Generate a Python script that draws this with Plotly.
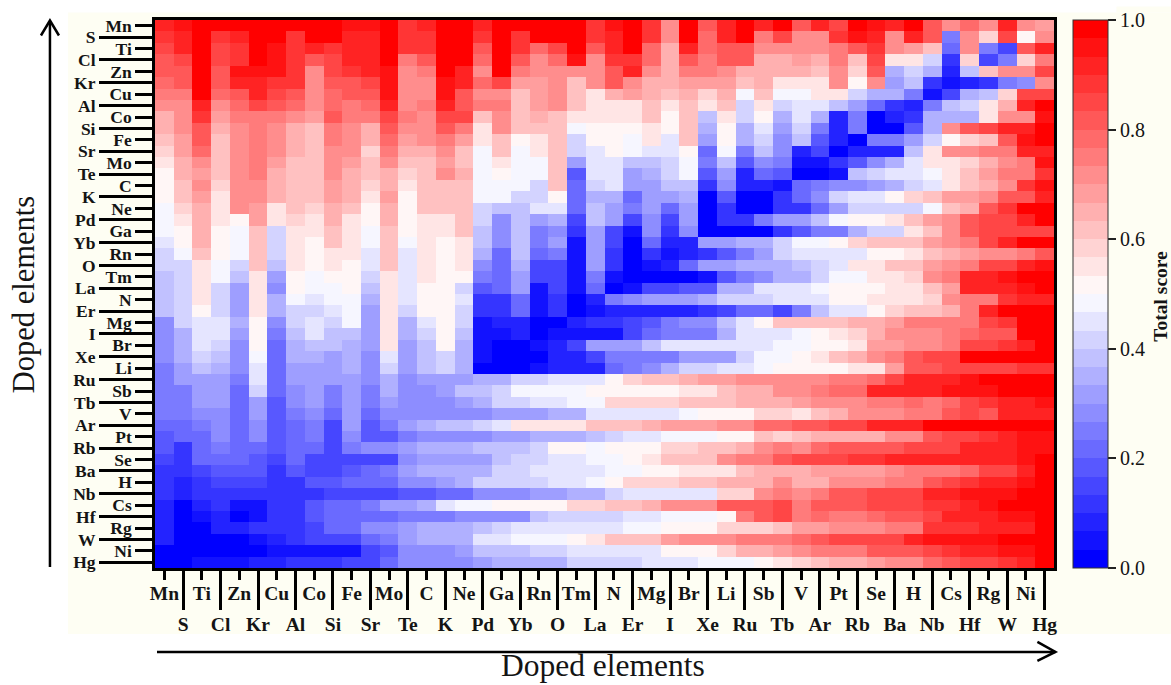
import plotly.graph_objects as go

elements = ["Mn","S","Ti","Cl","Zn","Kr","Cu","Al","Co","Si","Fe","Sr","Mo","Te","C","K","Ne","Pd","Ga","Yb","Rn","O","Tm","La","N","Er","Mg","I","Br","Xe","Li","Ru","Sb","Tb","V","Ar","Pt","Rb","Se","Ba","H","Nb","Cs","Hf","Rg","W","Ni","Hg"]

# total score x 100, one row per doped element, top row first
score_pct = [
[90,95,100,100,100,100,100,100,100,100,95,95,100,87,90,100,100,92,100,100,100,100,100,87,95,100,88,72,97,82,92,97,90,97,80,92,85,100,95,92,100,80,70,78,72,90,72,68],
[88,92,100,88,93,100,100,88,100,97,93,93,100,87,87,100,97,88,100,87,97,97,100,87,92,97,87,72,97,78,90,97,75,85,72,72,88,95,90,70,92,80,25,70,58,85,52,72],
[85,90,100,85,88,100,95,88,90,88,92,93,100,87,87,100,97,80,100,87,78,85,100,82,92,97,78,64,92,78,82,82,72,72,72,72,75,80,88,72,68,60,20,70,25,15,82,90],
[82,85,97,85,88,97,95,87,82,85,90,90,100,75,80,97,97,78,97,80,72,77,95,72,87,87,78,64,80,76,80,80,65,65,68,66,75,60,85,55,55,40,10,58,15,25,58,75],
[80,82,97,82,95,95,95,88,72,85,88,90,95,72,75,97,93,72,97,74,72,72,72,72,82,92,72,64,75,75,72,64,64,65,65,60,72,58,80,36,42,36,7,38,60,70,72,85],
[78,80,97,82,92,92,88,88,72,82,83,85,95,72,72,95,90,77,85,68,69,72,62,70,82,72,66,64,68,68,68,60,64,55,55,56,72,52,70,33,38,13,5,7,10,25,28,72],
[74,76,97,78,80,90,85,82,72,78,82,80,95,72,72,95,80,72,72,63,68,72,62,55,65,68,66,60,64,58,66,47,63,47,49,56,56,42,35,35,24,4,14,35,38,57,85,85],
[70,72,90,72,78,84,82,78,72,78,74,78,92,72,75,90,80,75,75,63,69,72,60,56,56,56,62,54,62,54,60,40,56,42,44,44,38,30,21,12,8,25,38,42,56,65,93,100],
[66,72,88,68,76,76,74,72,68,80,74,76,85,75,72,85,85,62,72,60,64,62,55,54,54,54,60,50,62,38,54,40,50,35,44,36,9,25,2,8,10,35,35,35,56,72,72,95],
[66,70,82,66,72,75,72,66,63,74,72,66,82,72,72,82,75,55,70,60,62,62,49,52,52,52,54,50,62,36,50,36,45,30,42,26,8,24,1,1,18,34,72,82,86,90,92,97],
[60,68,80,63,70,74,70,65,62,74,70,65,78,68,72,75,67,54,62,53,55,62,42,50,50,47,54,44,60,32,50,36,42,27,37,17,7,2,24,24,30,42,52,58,60,80,96,100],
[58,68,78,62,70,74,72,64,62,72,72,58,74,65,66,70,62,49,60,49,54,60,42,46,50,47,44,44,52,22,47,24,39,28,7,15,1,7,9,9,38,56,72,72,76,76,90,90],
[56,65,72,62,70,76,68,62,62,70,68,62,70,60,62,68,62,49,54,49,49,62,30,44,46,39,38,43,47,25,37,17,27,24,4,4,13,17,27,36,45,54,55,58,65,73,76,95],
[53,64,68,62,70,76,66,62,60,70,66,62,66,58,62,70,65,49,50,47,47,60,18,44,44,32,36,42,47,17,32,7,20,17,1,3,6,37,41,44,45,49,55,62,67,74,74,88],
[52,62,70,57,72,72,66,62,60,68,66,58,66,55,62,62,62,49,47,47,42,60,20,42,44,30,30,38,38,10,28,7,8,4,20,25,28,28,32,36,40,45,55,62,65,72,87,96],
[51,60,68,54,70,70,64,62,60,68,64,56,68,50,60,62,62,47,47,43,42,50,20,36,36,20,30,30,34,3,17,2,2,10,20,27,41,45,45,51,58,62,68,67,73,80,83,93],
[48,58,66,54,70,68,56,60,57,66,60,51,65,50,62,60,60,42,38,38,44,44,22,38,32,24,30,20,32,1,12,2,2,12,12,20,30,40,40,42,42,48,60,65,83,87,98,98],
[48,56,64,54,52,68,56,58,55,64,56,51,64,50,56,56,62,42,28,38,33,36,16,38,30,15,28,15,32,1,10,10,26,30,33,37,48,52,52,55,60,68,72,80,86,86,93,97],
[47,52,64,51,48,60,42,56,55,60,54,48,60,50,56,54,62,38,28,38,25,29,10,32,15,5,28,10,28,0,0,0,3,12,18,25,25,36,40,42,55,60,72,82,84,84,86,86],
[44,52,64,51,48,60,42,55,53,60,54,47,60,47,56,52,56,38,28,38,25,30,6,32,15,0,22,8,8,32,32,36,36,40,48,47,52,58,60,63,63,67,71,75,85,93,98,98],
[42,47,60,51,48,60,42,55,51,56,54,46,60,44,54,52,56,35,22,38,22,26,6,32,12,0,10,6,8,12,18,24,32,42,44,44,45,45,52,52,55,60,65,68,70,70,74,82],
[40,43,56,47,41,60,37,54,50,54,51,44,60,44,54,52,54,28,22,34,16,16,6,32,12,0,5,8,20,30,30,36,36,35,38,40,45,55,55,62,62,68,70,74,84,86,92,96],
[38,43,56,47,38,56,33,53,48,51,51,42,56,44,54,52,52,26,22,30,16,16,6,26,6,0,0,2,2,4,18,26,28,35,36,42,47,48,54,54,57,72,75,92,92,96,97,100],
[38,43,56,43,33,54,29,51,47,47,50,38,56,44,52,50,42,17,22,30,5,14,6,22,3,6,16,16,18,18,36,36,44,45,45,47,50,51,51,55,55,60,68,90,90,92,95,97],
[38,43,56,43,33,56,34,49,44,48,49,36,56,44,50,50,44,12,12,20,5,12,3,8,24,28,30,30,30,34,42,42,42,45,45,46,50,52,54,54,56,58,72,75,75,88,90,90],
[38,43,50,43,33,56,34,40,43,44,49,33,56,40,50,50,42,12,12,20,5,10,0,5,8,8,8,8,8,12,16,22,22,15,25,37,46,46,52,57,62,62,65,75,92,100,100,100],
[28,40,45,44,34,52,29,40,44,41,49,33,56,36,44,50,40,6,8,8,2,0,8,10,10,15,18,24,28,28,38,44,52,60,60,62,63,66,66,67,75,75,75,75,85,88,97,100],
[28,36,45,44,33,52,26,38,44,38,38,33,56,34,40,50,37,5,5,8,1,4,4,4,4,15,20,24,24,26,36,44,45,46,49,52,55,58,66,70,72,72,76,78,82,82,97,97],
[28,34,45,41,27,52,23,36,38,37,36,30,56,33,38,50,36,5,0,2,6,8,14,30,33,33,38,44,44,44,44,44,46,48,49,52,52,56,68,68,70,72,75,85,85,88,92,100],
[28,34,40,38,27,49,23,36,36,33,36,29,44,33,37,42,36,4,0,0,3,9,9,14,24,24,24,24,30,30,30,40,48,48,50,55,62,65,72,76,80,85,85,97,97,97,97,97],
[26,33,38,34,27,46,23,33,31,30,34,27,41,32,38,42,35,0,3,3,5,8,9,9,20,25,28,36,40,40,44,44,48,51,51,51,51,54,56,68,80,80,85,85,85,85,87,87],
[24,30,33,32,25,46,20,33,31,30,33,27,36,28,30,33,33,36,36,40,40,44,46,46,52,58,61,62,64,69,69,70,70,70,72,72,74,74,78,84,92,92,92,94,97,97,97,97],
[24,24,32,32,23,40,20,27,30,24,32,25,34,28,28,30,38,38,42,48,48,48,48,52,52,52,52,52,56,56,60,65,65,72,72,76,78,78,90,90,90,92,95,96,96,98,100,100],
[24,24,32,31,23,33,17,27,30,24,32,24,31,28,28,28,33,36,40,40,44,46,49,49,58,58,58,58,60,60,62,66,66,66,68,70,72,72,76,76,78,76,78,84,88,92,92,96],
[24,24,29,28,23,30,17,25,28,22,30,22,29,27,27,27,27,27,33,33,33,34,34,44,44,44,44,44,48,52,52,52,58,58,56,60,64,70,72,72,76,76,80,84,82,90,90,92],
[22,22,25,28,23,28,17,23,25,16,30,18,25,30,35,38,38,42,45,56,56,56,56,60,60,60,64,68,68,68,72,72,78,78,80,82,84,86,90,92,92,100,100,100,100,100,100,100],
[18,21,21,28,23,27,17,22,25,16,29,17,17,24,28,28,28,28,32,32,36,36,36,38,43,46,46,49,49,49,52,52,60,58,60,66,66,66,66,72,72,80,85,85,88,92,94,94],
[17,12,20,24,23,20,17,21,20,16,24,27,27,33,34,34,34,38,38,38,43,50,50,49,52,52,52,58,58,60,62,65,72,75,72,77,82,82,82,82,84,86,86,90,90,92,96,96],
[15,12,20,23,22,19,14,21,16,15,15,15,15,28,30,30,33,33,38,41,41,44,46,48,48,51,55,60,62,62,70,74,74,80,84,86,86,88,88,90,90,92,92,92,92,92,96,100],
[13,11,14,18,18,18,10,19,15,15,18,22,24,32,36,36,36,36,40,40,46,46,46,46,48,48,51,51,56,56,56,60,66,66,66,68,68,68,68,72,74,76,76,78,84,84,92,100],
[13,9,11,14,14,14,11,11,18,18,20,20,21,27,29,33,36,40,40,40,40,45,45,49,52,58,58,58,62,62,64,66,66,70,66,66,70,72,72,76,76,82,84,88,90,92,94,100],
[10,7,10,12,12,12,11,11,11,14,14,15,15,18,18,23,23,27,27,27,31,33,36,36,40,44,44,46,46,46,58,58,70,75,72,76,80,82,84,86,86,90,90,94,96,96,98,100],
[8,3,7,13,4,6,11,13,19,20,20,25,30,32,36,44,47,47,50,53,53,53,57,57,62,62,66,70,70,70,80,80,80,86,76,82,82,82,84,84,84,88,88,92,94,100,100,100],
[8,0,4,7,0,4,11,13,17,21,21,22,22,24,24,24,28,28,28,28,38,40,40,40,40,44,46,49,49,49,52,75,80,85,76,78,76,76,78,80,82,84,90,90,92,94,96,100],
[7,0,3,7,7,11,11,13,16,22,22,27,27,32,36,36,36,38,42,44,46,46,46,46,46,49,49,53,53,53,57,57,57,62,68,68,70,70,72,74,74,88,88,88,90,90,92,100],
[7,0,1,3,3,6,8,11,14,16,16,20,25,30,36,36,36,44,44,47,47,47,50,55,60,60,60,68,72,72,72,76,76,76,78,80,84,84,84,86,90,94,94,96,96,98,100,100],
[3,2,1,0,0,2,5,5,5,5,5,14,17,27,27,27,33,37,37,37,40,43,46,46,46,46,46,50,52,52,58,66,66,68,70,74,76,76,80,80,80,84,88,90,92,94,96,100],
[0,2,5,5,6,7,9,10,10,12,14,15,20,27,27,27,27,30,34,34,34,34,42,42,42,42,46,46,46,49,49,49,53,55,58,62,66,66,68,72,72,78,82,84,86,88,90,100],
]

colorbar_ticks = [0.0, 0.2, 0.4, 0.6, 0.8, 1.0]
n_bands = 30

W, H = 1171, 685
PL, PR, PT, PB = 155.0, 1053.6, 19.5, 568.0


def band_colour(t):
    if t <= 0.5:
        g = round(255 * t / 0.5)
        return f"rgb({g},{g},255)"
    g = round(255 * (1 - t) / 0.5)
    return f"rgb(255,{g},{g})"


colorscale = []
for i in range(n_bands):
    c = band_colour(i / (n_bands - 1))
    colorscale.append([i / n_bands, c])
    colorscale.append([(i + 1) / n_bands, c])


def px(x):
    return (x - PL) / (PR - PL)


def py(y):
    return (PB - y) / (PB - PT)


idx = list(range(len(elements)))
z = [[v / 100 for v in row] for row in score_pct]
SERIF = "Liberation Serif"
INK = "#141414"

fig = go.Figure()
fig.add_trace(go.Heatmap(
    z=z, x=idx, y=idx, zmin=0, zmax=1, colorscale=colorscale,
    customdata=[[(a, b) for a in elements] for b in elements],
    hovertemplate="%{customdata[1]} / %{customdata[0]}: %{z}<extra></extra>",
    colorbar=dict(
        x=px(1073), xanchor="left", xpad=0, y=0.5, yanchor="middle", ypad=0,
        len=1, lenmode="fraction", thickness=35, thicknessmode="pixels",
        outlinecolor="#333333", outlinewidth=1,
        tickmode="array", tickvals=colorbar_ticks, ticktext=[f"{t:.1f}" for t in colorbar_ticks],
        ticks="outside", ticklen=8, tickwidth=1.5, tickcolor="#222222",
        tickfont=dict(family=SERIF, size=20, color=INK),
    ),
))
# second, empty trace so the long-tick axes exist
fig.add_trace(go.Scatter(x=[None], y=[None], xaxis="x2", yaxis="y2", showlegend=False, hoverinfo="skip"))

rng_x = [-0.5, 47.5]
rng_y = [47.5, -0.5]
xlabel_font = dict(family=SERIF, size=19.5, color=INK, weight="bold")
ylabel_font = dict(family=SERIF, size=17.5, color=INK, weight="bold")
tick_common = dict(ticks="outside", tickcolor="#000000", showgrid=False, zeroline=False)

fig.update_layout(
    width=W, height=H, autosize=False,
    margin=dict(l=PL, r=W - PR, t=PT, b=H - PB, pad=0),
    paper_bgcolor="white", plot_bgcolor="white", showlegend=False,
    xaxis=dict(range=rng_x, tickmode="array", tickvals=idx[0::2], ticktext=elements[0::2],
               ticklen=9, tickwidth=2.5, tickfont=xlabel_font, tickangle=0, automargin=False,
               ticklabelstandoff=-3,
               showline=True, mirror=True, linecolor="#000000", linewidth=2.5, **tick_common),
    yaxis=dict(range=rng_y, tickmode="array", tickvals=idx[0::2], ticktext=elements[0::2],
               ticklen=17, tickwidth=2.5, tickfont=ylabel_font, automargin=False,
               showline=True, mirror=True, linecolor="#000000", linewidth=2.5, **tick_common),
    xaxis2=dict(range=rng_x, overlaying="x", side="bottom", anchor="y2", tickmode="array",
                tickvals=idx[1::2], ticktext=elements[1::2], ticklen=41, tickwidth=3,
                ticklabelstandoff=-2,
                tickfont=xlabel_font, tickangle=0, automargin=False, **tick_common),
    yaxis2=dict(range=rng_y, overlaying="y", side="left", anchor="x2", tickmode="array",
                tickvals=idx[1::2], ticktext=elements[1::2], ticklen=55, tickwidth=3,
                tickfont=ylabel_font, automargin=False, **tick_common),
)

# cream panel behind the figure
fig.add_shape(type="rect", xref="paper", yref="paper", layer="below", line_width=0, fillcolor="#FEFEF3",
              x0=px(68), x1=px(1171), y0=py(634), y1=py(12))
fig.add_shape(type="rect", xref="paper", yref="paper", layer="below", line_width=0, fillcolor="#FEFEF3",
              x0=px(1116), x1=px(1171), y0=py(12), y1=py(6))

arrow_line = dict(color="#000000", width=2.5)
# horizontal arrow
fig.add_shape(type="line", xref="paper", yref="paper", line=arrow_line, x0=px(157), x1=px(1055), y0=py(652), y1=py(652))
fig.add_shape(type="path", xref="paper", yref="paper", line=arrow_line,
              path=f"M {px(1037)} {py(642)} L {px(1055)} {py(652)} L {px(1037)} {py(661)}")
# vertical arrow
fig.add_shape(type="line", xref="paper", yref="paper", line=arrow_line, x0=px(50), x1=px(50), y0=py(567), y1=py(21))
fig.add_shape(type="path", xref="paper", yref="paper", line=arrow_line,
              path=f"M {px(41)} {py(35)} L {px(50)} {py(20)} L {px(59)} {py(35)}")

fig.add_annotation(text="Doped elements", xref="paper", yref="paper", x=px(603), y=py(666),
                   showarrow=False, xanchor="center", yanchor="middle",
                   font=dict(family=SERIF, size=31.5, color=INK))
fig.add_annotation(text="Doped elements", xref="paper", yref="paper", x=px(24), y=py(294),
                   showarrow=False, textangle=-90, xanchor="center", yanchor="middle",
                   font=dict(family=SERIF, size=30.5, color=INK))
fig.add_annotation(text="<b>Total score</b>", xref="paper", yref="paper", x=px(1160), y=py(296),
                   showarrow=False, textangle=-90, xanchor="center", yanchor="middle",
                   font=dict(family=SERIF, size=19.5, color=INK))

fig.write_html("out.html", config={"displayModeBar": False},
               post_script="document.body.style.margin='0';document.body.style.overflow='hidden';")
